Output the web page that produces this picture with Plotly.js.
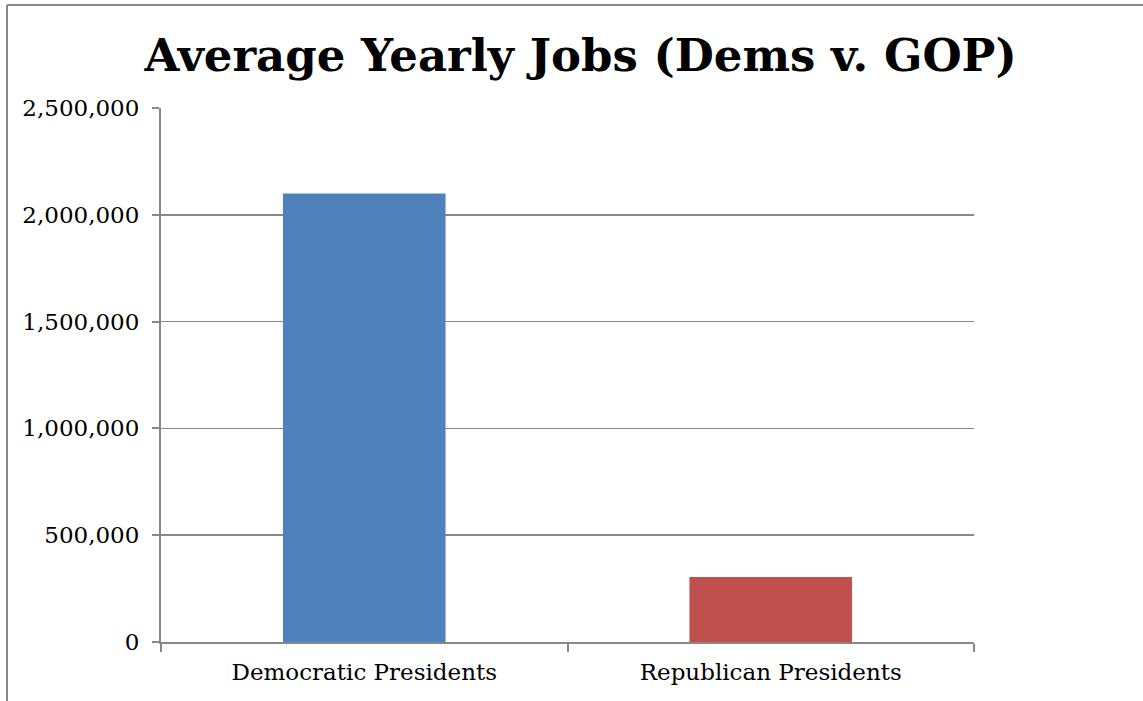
<!DOCTYPE html>
<html>
<head>
<meta charset="utf-8">
<script src="https://cdn.plot.ly/plotly-3.0.1.min.js"></script>
<style>html,body{margin:0;padding:0;background:#fff;}#chart{width:1143px;height:701px;}</style>
</head>
<body>
<div id="chart"></div>
<script>
const categories = ["Democratic Presidents", "Republican Presidents"];
const jobs = [2100000, 304000];
const barColors = ["#4F81BD", "#C0504D"];
const yTickVals = [0, 500000, 1000000, 1500000, 2000000, 2500000];
const yTickText = ["0", "500,000", "1,000,000", "1,500,000", "2,000,000", "2,500,000"];

const W = 1143, H = 701, L = 161, R = 169, T = 108, B = 59;
const pw = W - L - R, ph = H - T - B;
function px(x){ return (x - L) / pw; }
function py(y){ return (H - B - y) / ph; }

const serif = "DejaVu Serif, Georgia, serif";

Plotly.newPlot("chart", [{
  type: "bar",
  x: categories,
  y: jobs,
  marker: {color: barColors},
  width: 0.4,
  hoverinfo: "x+y"
}], {
  width: W, height: H,
  margin: {l: L, r: R, t: T, b: B, pad: 0},
  paper_bgcolor: "#fff",
  plot_bgcolor: "#fff",
  showlegend: false,
  title: {
    text: "<b>Average Yearly Jobs (Dems v. GOP)</b>",
    font: {family: serif, size: 45, color: "#000"},
    x: 0.508, xanchor: "center",
    y: 1 - 55/H, yanchor: "middle"
  },
  xaxis: {
    type: "category",
    range: [-0.5, 1.5],
    showgrid: false,
    showline: true, linecolor: "#888", linewidth: 2,
    ticks: "outside", tickson: "boundaries", ticklen: 8, tickcolor: "#888", tickwidth: 2,
    tickfont: {family: serif, size: 23, color: "#000"},
    ticklabelstandoff: 8,
    zeroline: false
  },
  yaxis: {
    range: [0, 2500000],
    tickvals: yTickVals, ticktext: yTickText,
    showgrid: true, gridcolor: "#888", gridwidth: 1.5,
    showline: true, linecolor: "#888", linewidth: 2,
    ticks: "outside", ticklen: 7, tickcolor: "#888", tickwidth: 2,
    tickfont: {family: serif, size: 23, color: "#000"},
    ticklabelstandoff: 8,
    zeroline: false
  },
  shapes: [
    {type: "line", xref: "paper", yref: "paper", x0: px(7), x1: px(1143), y0: py(5), y1: py(5), line: {color: "#888", width: 2}},
    {type: "line", xref: "paper", yref: "paper", x0: px(7), x1: px(7), y0: py(5), y1: py(701), line: {color: "#888", width: 2}}
  ]
}, {displayModeBar: false, staticPlot: true});
</script>
</body>
</html>
